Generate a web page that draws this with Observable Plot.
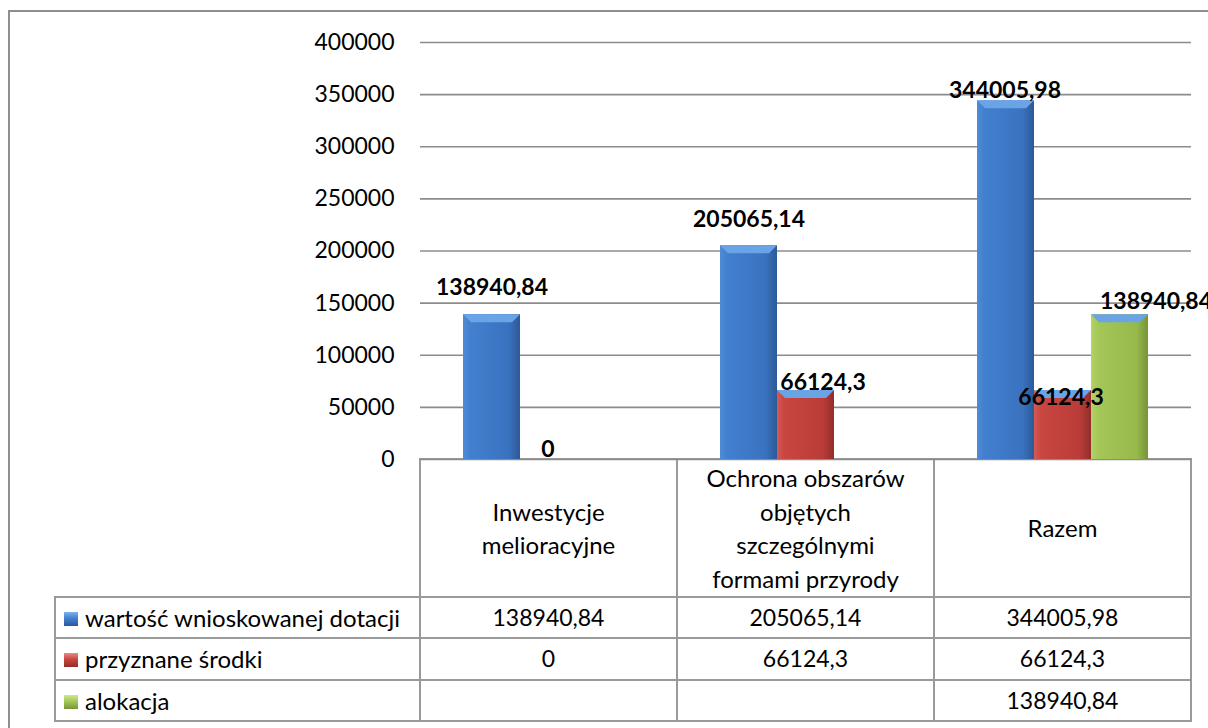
<!DOCTYPE html>
<html>
<head>
<meta charset="utf-8">
<script src="https://cdn.jsdelivr.net/npm/d3@7"></script>
<script src="https://cdn.jsdelivr.net/npm/@observablehq/plot@0.6"></script>
<style>
  html, body { margin: 0; padding: 0; background: #fff; overflow: hidden; }
  body { width: 1208px; height: 728px; position: relative; font-family: Lato, "Open Sans", sans-serif; }
  #frame { position: absolute; left: 8px; top: 10px; width: 1400px; height: 900px; border: 2px solid #8f8f8f; box-sizing: border-box; }
  #chart { position: absolute; left: 0; top: 0; }
  #table { position: absolute; left: 0; top: 0; }
  .cell { position: absolute; box-sizing: border-box; border: 2px solid #9a9a9a; font-size: 23px; color: #000;
          display: flex; align-items: center; justify-content: center; text-align: center; line-height: 33.5px; }
  .cell.head { font-size: 24px; }
  .cell.lab { justify-content: flex-start; padding-left: 8px; font-size: 24px; }
  .key { display: inline-block; width: 14px; height: 14px; margin-right: 7px; position: relative; top: 1px; }
</style>
</head>
<body>
<div id="frame"></div>
<div id="table"></div>
<div id="chart"></div>
<script>
// ---------------- data ----------------
const categories = [
  "Inwestycje melioracyjne",
  "Ochrona obszarów objętych szczególnymi formami przyrody",
  "Razem"
];
const categoryLines = [
  ["Inwestycje", "melioracyjne"],
  ["Ochrona obszarów", "objętych", "szczególnymi", "formami przyrody"],
  ["Razem"]
];
const seriesNames = ["wartość wnioskowanej dotacji", "przyznane środki", "alokacja"];
const wartosc   = [138940.84, 205065.14, 344005.98];
const przyznane = [0, 66124.3, 66124.3];
const alokacja  = [null, null, 138940.84];
const yTicks = [0, 50000, 100000, 150000, 200000, 250000, 300000, 350000, 400000];

// ---------------- styling ----------------
const seriesValues = [wartosc, przyznane, alokacja];
const gradIds = ["gBlue", "gRed", "gGreen"];
const gradStops = [
  [["0%", "#508bd6"], ["12%", "#4280cf"], ["80%", "#3a72bf"], ["100%", "#2c5997"]],
  [["0%", "#d65a55"], ["12%", "#c94641"], ["80%", "#ba3c38"], ["100%", "#922e2a"]],
  [["0%", "#b3d468"], ["12%", "#a4c757"], ["80%", "#97b94a"], ["100%", "#76953a"]]
];
const bevelTop = ["#6aa3e6", "#df7570", "#c3df7f"];
const keyBg = [
  "linear-gradient(180deg,#7fb2ee 0%,#4280cf 45%,#2c5997 100%)",
  "linear-gradient(180deg,#ea8a85 0%,#c94641 45%,#922e2a 100%)",
  "linear-gradient(180deg,#cfe88f 0%,#a4c757 45%,#76953a 100%)"
];
// label nudges (dx, dy) per category-series, matching the reference's label placement
const labelNudge = {
  "0-0": [0, -27], "0-1": [-1, -10],
  "1-0": [0, -26], "1-1": [17, -8],
  "2-0": [-1, -10], "2-1": [-2, 7], "2-2": [36, -13]
};
const fmt = v => v == null ? "" : String(v).replace(".", ",");

const rows = [];
categories.forEach((c, ci) => seriesNames.forEach((s, si) => {
  const v = seriesValues[si][ci];
  if (v != null) rows.push({category: c, series: s, value: v, ci, si});
}));

const W = 1208, H = 470, mL = 420, mR = 17, mT = 42, mB = 11;

const marks = [
  Plot.ruleY(yTicks, {y: d => d, stroke: "#8c8c8c", strokeWidth: 1.6}),
  ...seriesNames.map((s, si) =>
    Plot.barY(rows.filter(d => d.si === si), {
      fx: "category", x: "series", y: "value",
      fill: `url(#${gradIds[si]})`
    })
  ),
  ...rows.map(d => {
    const [dx, dy] = labelNudge[`${d.ci}-${d.si}`] || [0, -10];
    return Plot.text([d], {
      fx: "category", x: "series", y: "value",
      text: r => fmt(r.value), dx, dy,
      fontWeight: "bold", fontSize: 23, fill: "#000"
    });
  }),
  Plot.axisY({
    ticks: yTicks, tickFormat: d => String(d), tickSize: 0, tickPadding: 26,
    line: true, stroke: "#8c8c8c", fill: "#000", label: null, fontSize: 23
  })
];

const plot = Plot.plot({
  width: W, height: H,
  marginLeft: mL, marginRight: mR, marginTop: mT, marginBottom: mB,
  style: {fontFamily: "Lato, 'Open Sans', sans-serif", fontSize: "23px", background: "transparent", overflow: "visible", color: "#000"},
  fx: {domain: categories, padding: 0, axis: null},
  x: {domain: seriesNames, paddingInner: 0, paddingOuter: 0.728, axis: null},
  y: {domain: [0, 400000], axis: null},
  marks
});

// gradients + bevel tops for the 3D look
const ns = "http://www.w3.org/2000/svg";
const defs = document.createElementNS(ns, "defs");
gradIds.forEach((id, i) => {
  const g = document.createElementNS(ns, "linearGradient");
  g.setAttribute("id", id);
  g.setAttribute("x1", "0"); g.setAttribute("x2", "1"); g.setAttribute("y1", "0"); g.setAttribute("y2", "0");
  gradStops[i].forEach(([o, c]) => {
    const st = document.createElementNS(ns, "stop");
    st.setAttribute("offset", o); st.setAttribute("stop-color", c);
    g.appendChild(st);
  });
  defs.appendChild(g);
});
plot.insertBefore(defs, plot.firstChild);

plot.querySelectorAll('g[aria-label="bar"]').forEach(g => {
  const f = g.getAttribute("fill") || "";
  const idx = gradIds.findIndex(id => f.includes(id));
  g.querySelectorAll("rect").forEach(r => {
    const x = +r.getAttribute("x"), y = +r.getAttribute("y");
    const w = +r.getAttribute("width"), h = +r.getAttribute("height");
    if (!(h > 3)) return;
    const b = Math.min(8, h / 2);
    const p = document.createElementNS(ns, "polygon");
    p.setAttribute("points", `${x},${y} ${x + w},${y} ${x + w - b},${y + b} ${x + b},${y + b}`);
    p.setAttribute("fill", bevelTop[idx >= 0 ? idx : 0]);
    r.parentNode.appendChild(p);
  });
});

document.getElementById("chart").appendChild(plot);

// ---------------- data table below the chart ----------------
const colX = [55, 420, 677, 934, 1191];
const rowY = [459, 597, 638, 680, 721];
const table = document.getElementById("table");
function addCell(x0, x1, y0, y1, cls, html) {
  const d = document.createElement("div");
  d.className = "cell " + cls;
  d.style.left = (x0 - 1) + "px";
  d.style.top = (y0 - 1) + "px";
  d.style.width = (x1 - x0 + 2) + "px";
  d.style.height = (y1 - y0 + 2) + "px";
  d.innerHTML = html;
  table.appendChild(d);
}
// header row
categories.forEach((c, ci) => {
  addCell(colX[ci + 1], colX[ci + 2], rowY[0], rowY[1], "head", categoryLines[ci].join("<br>"));
});
// series rows
seriesNames.forEach((s, si) => {
  addCell(colX[0], colX[1], rowY[si + 1], rowY[si + 2], "lab",
    `<span class="key" style="background:${keyBg[si]}"></span>${s}`);
  categories.forEach((c, ci) => {
    addCell(colX[ci + 1], colX[ci + 2], rowY[si + 1], rowY[si + 2], "", fmt(seriesValues[si][ci]));
  });
});
</script>
</body>
</html>
